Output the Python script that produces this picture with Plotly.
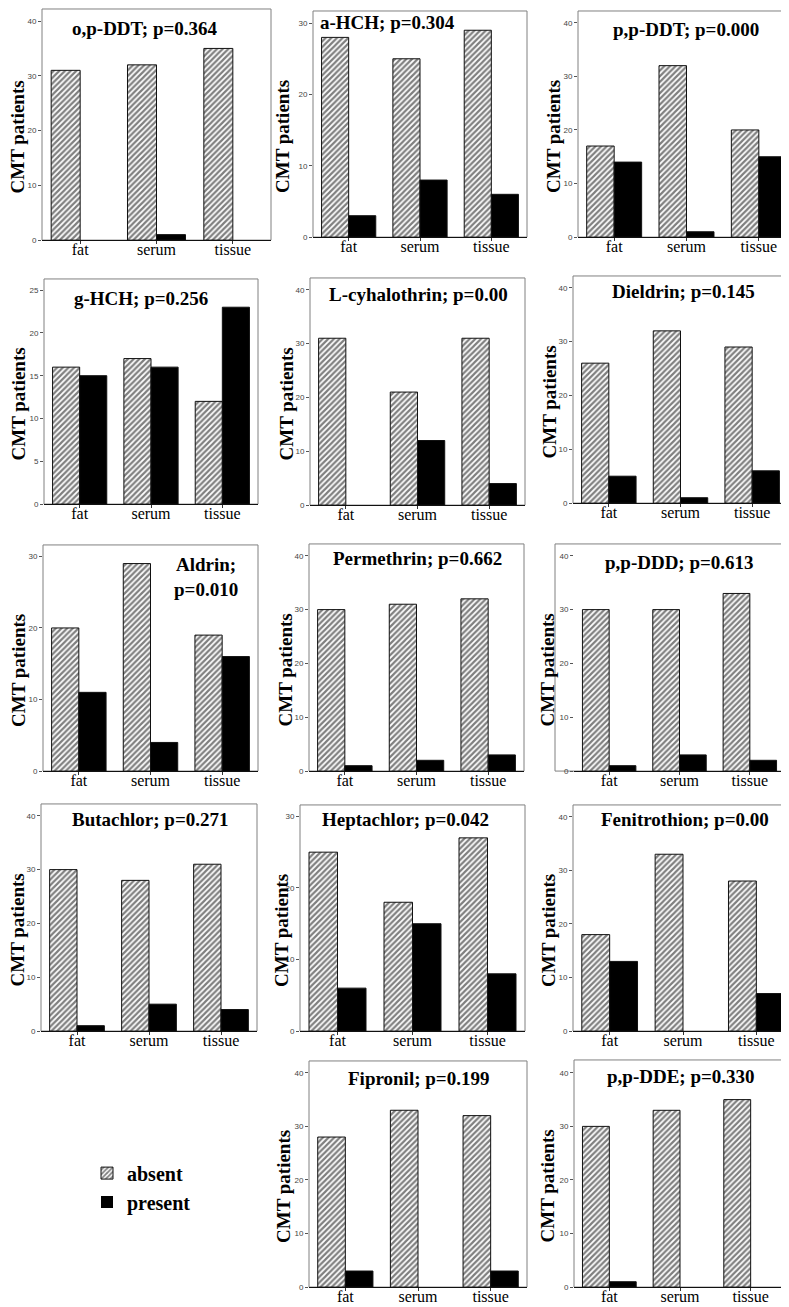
import plotly.graph_objects as go

categories = ["fat", "serum", "tissue"]

titles = [
    "o,p-DDT; p=0.364", "a-HCH; p=0.304", "p,p-DDT; p=0.000",
    "g-HCH; p=0.256", "L-cyhalothrin; p=0.00", "Dieldrin; p=0.145",
    "Aldrin;<br>p=0.010", "Permethrin; p=0.662", "p,p-DDD; p=0.613",
    "Butachlor; p=0.271", "Heptachlor; p=0.042", "Fenitrothion; p=0.00",
    "Fipronil; p=0.199", "p,p-DDE; p=0.330",
]

absent_op_ddt = [31, 32, 35];   present_op_ddt = [0, 1, 0]
absent_a_hch = [28, 25, 29];    present_a_hch = [3, 8, 6]
absent_pp_ddt = [17, 32, 20];   present_pp_ddt = [14, 1, 15]
absent_g_hch = [16, 17, 12];    present_g_hch = [15, 16, 23]
absent_l_cyh = [31, 21, 31];    present_l_cyh = [0, 12, 4]
absent_dieldrin = [26, 32, 29]; present_dieldrin = [5, 1, 6]
absent_aldrin = [20, 29, 19];   present_aldrin = [11, 4, 16]
absent_permethrin = [30, 31, 32]; present_permethrin = [1, 2, 3]
absent_pp_ddd = [30, 30, 33];   present_pp_ddd = [1, 3, 2]
absent_butachlor = [30, 28, 31]; present_butachlor = [1, 5, 4]
absent_heptachlor = [25, 18, 27]; present_heptachlor = [6, 15, 8]
absent_fenitrothion = [18, 33, 28]; present_fenitrothion = [13, 0, 7]
absent_fipronil = [28, 33, 32]; present_fipronil = [3, 0, 3]
absent_pp_dde = [30, 33, 35];   present_pp_dde = [1, 0, 0]

absent_all = [absent_op_ddt, absent_a_hch, absent_pp_ddt, absent_g_hch, absent_l_cyh,
              absent_dieldrin, absent_aldrin, absent_permethrin, absent_pp_ddd,
              absent_butachlor, absent_heptachlor, absent_fenitrothion,
              absent_fipronil, absent_pp_dde]
present_all = [present_op_ddt, present_a_hch, present_pp_ddt, present_g_hch, present_l_cyh,
               present_dieldrin, present_aldrin, present_permethrin, present_pp_ddd,
               present_butachlor, present_heptachlor, present_fenitrothion,
               present_fipronil, present_pp_dde]

y_max = [42.2, 31.7, 42.2, 26.3, 42.2, 42.2, 31.6, 42.2, 42.2, 42.2, 31.6, 42.2, 42.2, 42.4]
y_step = [10, 10, 10, 5, 10, 10, 10, 10, 10, 10, 10, 10, 10, 10]

# ---- layout (pixels) ----
W, H = 789, 1307
# plot area: left, right, top, bottom
areas = [
    (34, 263, 1, 233), (305, 519, 3, 230), (570, 787, 3, 230),
    (36, 250, 272, 498), (302, 517, 271, 499), (565, 780, 269, 497),
    (35, 250, 539, 766), (301, 516, 538, 766), (566, 777, 538, 766),
    (33, 249, 799, 1027), (292, 517, 800, 1027), (565, 785, 800, 1027),
    (301, 519, 1057, 1284), (566, 778, 1056, 1284),
]
frames = list(areas)
frames[8] = (547, 778, 538, 766)
title_pos = [(137, 21), (379, 15), (678, 22), (133, 292), (410, 288), (675, 285),
             (198, 571), (409, 553), (671, 557), (142, 815), (397, 815), (677, 815),
             (410, 1075), (673, 1073)]
ytitle_x = [10, 274, 545, 10, 278, 541, 11, 277, 539, 9, 274, 541, 276, 539]

SERIF = "Liberation Serif"
SANS = "Liberation Sans"

fig = go.Figure()
layout = {}
annotations = []
shapes = []


def outline(vals):
    return [0 if v == 0 else 1 for v in vals]


for i in range(14):
    n = "" if i == 0 else str(i + 1)
    xa, ya = "x" + n, "y" + n
    fig.add_trace(go.Bar(
        x=categories, y=absent_all[i], name="absent", legendgroup="absent",
        showlegend=(i == 0), xaxis=xa, yaxis=ya, offsetgroup="a",
        marker=dict(color="white",
                    pattern=dict(shape="/", fgcolor="black", bgcolor="white",
                                 size=4, solidity=0.55),
                    line=dict(color="#111", width=outline(absent_all[i]))),
    ))
    fig.add_trace(go.Bar(
        x=categories, y=present_all[i], name="present", legendgroup="present",
        showlegend=(i == 0), xaxis=xa, yaxis=ya, offsetgroup="p",
        marker=dict(color="black", line=dict(color="#111", width=outline(present_all[i]))),
    ))
    l, r, t, b = areas[i]
    layout["xaxis" + n] = dict(
        domain=[l / W, r / W], anchor=ya, showline=True, linecolor="#111", linewidth=1,
        ticks="outside", ticklen=3, tickcolor="#333", showgrid=False, zeroline=False,
        ticklabelstandoff=-8,
        tickfont=dict(family=SERIF, size=16, color="black"), fixedrange=True,
    )
    layout["yaxis" + n] = dict(
        domain=[1 - b / H, 1 - t / H], anchor=xa, range=[0, y_max[i]], dtick=y_step[i],
        showline=False, ticks="outside", ticklen=3, tickcolor="#555", showgrid=False,
        zeroline=False, tickfont=dict(family=SANS, size=8, color="#444"), fixedrange=True,
    )
    fl, fr, ft, fb = frames[i]
    shapes.append(dict(type="rect", xref="paper", yref="paper",
                       x0=fl / W, x1=fr / W, y0=1 - fb / H, y1=1 - ft / H,
                       line=dict(color="#808080", width=1), layer="below"))
    tx, ty = title_pos[i]
    annotations.append(dict(text="<b>" + titles[i] + "</b>", x=tx / W, y=1 - ty / H,
                            xref="paper", yref="paper", showarrow=False,
                            xanchor="center", yanchor="middle",
                            font=dict(family=SERIF, size=19, color="black")))
    annotations.append(dict(text="<b>CMT patients</b>", x=ytitle_x[i] / W,
                            y=1 - ((t + b) / 2 + 13) / H, xref="paper", yref="paper",
                            showarrow=False, textangle=-90, xanchor="center",
                            yanchor="middle",
                            font=dict(family=SERIF, size=19, color="black")))

fig.update_layout(
    width=W, height=H, margin=dict(l=0, r=0, t=0, b=0),
    paper_bgcolor="white", plot_bgcolor="white",
    barmode="group", bargap=0.24, bargroupgap=0,
    annotations=annotations, shapes=shapes,
    legend=dict(x=79 / W, y=1 - 1150 / H, xanchor="left", yanchor="top",
                font=dict(family=SERIF, size=20, color="black", weight="bold"),
                bgcolor="rgba(0,0,0,0)", tracegroupgap=0),
    **layout,
)

fig.write_html("out.html")
